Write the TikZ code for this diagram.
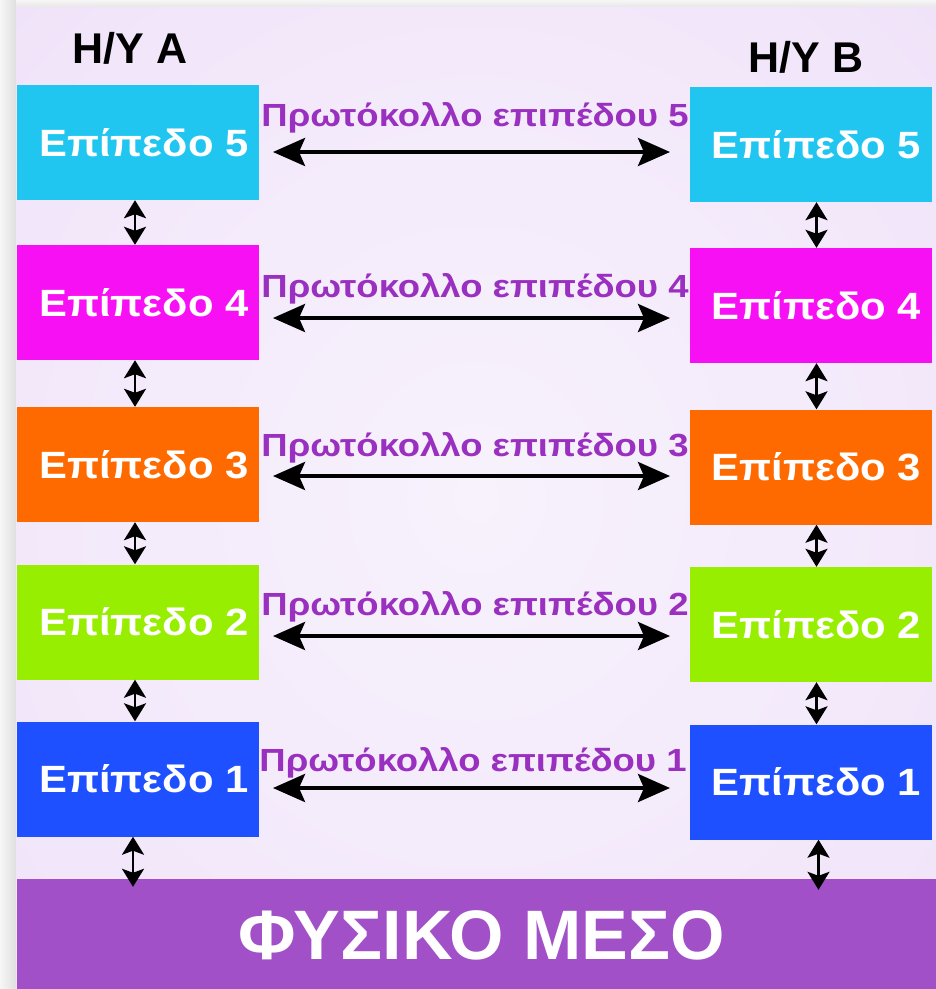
\documentclass[tikz,border=0pt]{standalone}
\usepackage{fontspec}
\setmainfont{Liberation Sans}
\newfontfamily\layerfont{Liberation Sans}[FakeStretch=1.10]
\newfontfamily\protofont{Liberation Sans}[FakeStretch=1.14]
\usetikzlibrary{arrows.meta}

\definecolor{pageBg}{HTML}{F6F6F6}
\definecolor{shadowDark}{HTML}{E0E0E0}
\definecolor{panelIn}{HTML}{F7F2FC}
\definecolor{panelMid}{HTML}{EDDCF8}
\definecolor{panelOut}{HTML}{E4CCF2}
\definecolor{lvFive}{HTML}{20C6F0}
\definecolor{lvFour}{HTML}{F810F4}
\definecolor{lvThree}{HTML}{FF6A00}
\definecolor{lvTwo}{HTML}{98EE00}
\definecolor{lvOne}{HTML}{1E50FF}
\definecolor{mediumFill}{HTML}{A250C8}
\definecolor{protoText}{HTML}{9A30C0}

\pgfdeclareradialshading{panelglow}{\pgfpoint{0bp}{0bp}}{%
  color(0bp)=(panelIn); color(25bp)=(panelIn!55!panelMid);
  color(50bp)=(panelMid); color(71bp)=(panelOut)}

\tikzset{
  layerbox/.style={minimum width=242pt, minimum height=115pt, inner sep=0pt,
    text=white, font=\layerfont\bfseries\fontsize{38}{38}\selectfont,
    text height=27pt, text depth=0pt},
  hosttitle/.style={font=\bfseries\fontsize{43}{43}\selectfont, anchor=base},
  protolabel/.style={text=protoText, font=\protofont\bfseries\fontsize{32}{32}\selectfont,
    anchor=base, inner sep=0pt},
  harrow/.style={line width=4pt, {Stealth[length=32pt,width=28pt,inset=6pt]}-{Stealth[length=32pt,width=28pt,inset=6pt]}},
  varrow/.style={line width=2.5pt, {Stealth[length=18pt,width=22pt,inset=4pt]}-{Stealth[length=18pt,width=22pt,inset=4pt]}}
}

\begin{document}
\begin{tikzpicture}[x=1pt, y=-1pt]
\useasboundingbox (0,0) rectangle (936,989);

% page margin with a soft shadow along the panel edge
\fill[pageBg] (0,0) rectangle (936,989);
\shade[left color=pageBg, right color=shadowDark] (0,0) rectangle (16,989);
\shade[top color=pageBg, bottom color=shadowDark!70!pageBg] (16,0) rectangle (936,7);

% lavender panel with a lighter centre
\shade[shading=panelglow] (16,7) rectangle (936,989);

% host titles
\node[hosttitle] (hostA) at (130,63) {H/Y A};
\node[hosttitle] (hostB) at (806,72) {H/Y B};

% left protocol stack
\node[layerbox, fill=lvFive]  (L5) at (138,142.5) {\hspace{12pt}Επίπεδο 5};
\node[layerbox, fill=lvFour]  (L4) at (138,302.5) {\hspace{12pt}Επίπεδο 4};
\node[layerbox, fill=lvThree] (L3) at (138,464.5) {\hspace{12pt}Επίπεδο 3};
\node[layerbox, fill=lvTwo]   (L2) at (138,622)   {\hspace{12pt}Επίπεδο 2};
\node[layerbox, fill=lvOne]   (L1) at (138,779)   {\hspace{12pt}Επίπεδο 1};

% right protocol stack
\node[layerbox, fill=lvFive]  (R5) at (810.5,144.5) {\hspace{12pt}Επίπεδο 5};
\node[layerbox, fill=lvFour]  (R4) at (810.5,305.5) {\hspace{12pt}Επίπεδο 4};
\node[layerbox, fill=lvThree] (R3) at (810.5,467)   {\hspace{12pt}Επίπεδο 3};
\node[layerbox, fill=lvTwo]   (R2) at (810.5,624.5) {\hspace{12pt}Επίπεδο 2};
\node[layerbox, fill=lvOne]   (R1) at (810.5,782)   {\hspace{12pt}Επίπεδο 1};

% physical medium
\node[fill=mediumFill, minimum width=919pt, minimum height=110pt, inner sep=0pt,
      text=white, font=\bfseries\fontsize{70}{70}\selectfont,
      text height=50pt, text depth=0pt] (medium) at (476.5,934) {\hspace{10pt}ΦΥΣΙΚΟ ΜΕΣΟ};

% peer protocol labels
\node[protolabel] (t5) at (475,126) {Πρωτόκολλο επιπέδου 5};
\node[protolabel] (t4) at (475,297) {Πρωτόκολλο επιπέδου 4};
\node[protolabel] (t3) at (475,456) {Πρωτόκολλο επιπέδου 3};
\node[protolabel] (t2) at (475,615) {Πρωτόκολλο επιπέδου 2};
\node[protolabel] (t1) at (473,771) {Πρωτόκολλο επιπέδου 1};

% peer protocol arrows
\coordinate (a5) at (273,152); \coordinate (b5) at (670,152);
\coordinate (a4) at (273,318); \coordinate (b4) at (670,318);
\coordinate (a3) at (273,476); \coordinate (b3) at (670,476);
\coordinate (a2) at (273,636); \coordinate (b2) at (670,636);
\coordinate (a1) at (273,788); \coordinate (b1) at (670,788);
\foreach \k in {1,...,5} {\draw[harrow] (a\k) -- (b\k);}

% interfaces between adjacent layers
\foreach \u/\d in {5/4,4/3,3/2,2/1} {
  \draw[varrow] ([xshift=-3pt]L\u.south) -- ([xshift=-3pt]L\d.north);
  \draw[varrow] ([xshift=6pt]R\u.south) -- ([xshift=6pt]R\d.north);
}
\coordinate (mA) at ([xshift=-5pt,yshift=-8pt]L1.south |- medium.north);
\coordinate (mB) at ([xshift=8pt,yshift=-11pt]R1.south |- medium.north);
\draw[varrow] ([xshift=-5pt]L1.south) -- (mA);
\draw[varrow] ([xshift=8pt]R1.south) -- (mB);
\end{tikzpicture}
\end{document}
